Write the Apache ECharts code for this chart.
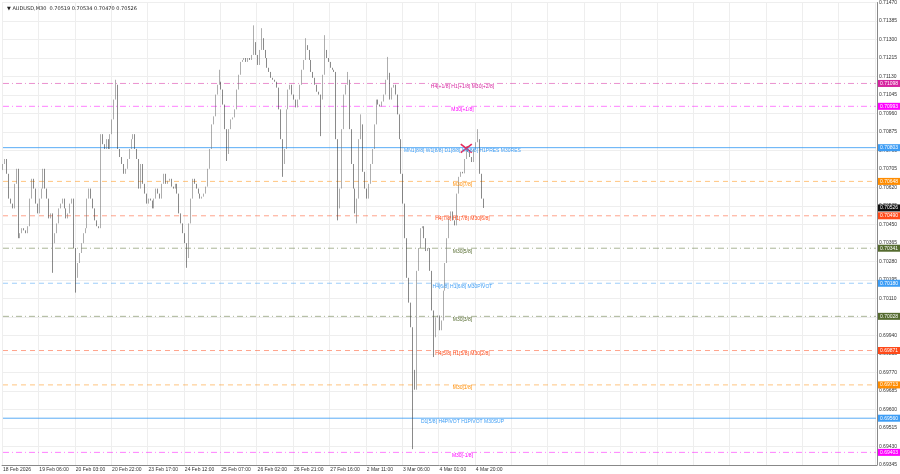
<!DOCTYPE html>
<html>
<head>
<meta charset="utf-8">
<script src="https://cdn.jsdelivr.net/npm/echarts@6/dist/echarts.min.js"></script>
<style>
html,body{margin:0;padding:0;background:#fff}
#main{width:900px;height:474px}
</style>
</head>
<body>
<div id="main"></div>
<script>
// 时间标签（每19根K线一个）
var timeLabels = ['18 Feb 2026','19 Feb 06:00','20 Feb 03:00','20 Feb 22:00','23 Feb 17:00','24 Feb 12:00','25 Feb 07:00','26 Feb 02:00','26 Feb 21:00','27 Feb 16:00','2 Mar 11:00','3 Mar 06:00','4 Mar 01:00','4 Mar 20:00'];

// 收盘价
var closes = [0.70728,0.70751,0.70683,0.70569,0.70546,0.70524,0.70637,0.70706,0.70387,0.70410,
0.70433,0.70423,0.70410,0.70442,0.70569,0.70660,0.70615,0.70546,0.70501,0.70569,
0.70615,0.70706,0.70615,0.70569,0.70478,0.70501,0.70364,0.70410,0.70455,0.70524,
0.70546,0.70569,0.70524,0.70478,0.70501,0.70546,0.70569,0.70342,0.70205,0.70273,
0.70319,0.70364,0.70410,0.70433,0.70569,0.70615,0.70569,0.70524,0.70469,0.70442,
0.70433,0.70865,0.70819,0.70797,0.70842,0.70797,0.70865,0.70933,0.71024,0.71092,
0.70797,0.70760,0.70728,0.70683,0.70706,0.70751,0.70797,0.70842,0.70865,0.70797,
0.70751,0.70615,0.70728,0.70637,0.70592,0.70546,0.70569,0.70560,0.70524,0.70569,
0.70615,0.70592,0.70569,0.70637,0.70683,0.70637,0.70651,0.70660,0.70624,0.70615,
0.70637,0.70592,0.70501,0.70455,0.70410,0.70364,0.70296,0.70455,0.70569,0.70660,
0.70637,0.70615,0.70592,0.70569,0.70578,0.70592,0.70624,0.70706,0.70797,0.70910,
0.70947,0.71047,0.71092,0.71106,0.71070,0.71001,0.70888,0.70774,0.70888,0.70933,
0.70942,0.70979,0.71070,0.71138,0.71197,0.71206,0.71215,0.71197,0.71215,0.71206,
0.71229,0.71288,0.71229,0.71183,0.71252,0.71306,0.71252,0.71215,0.71170,0.71151,
0.71124,0.71115,0.71106,0.71079,0.70979,0.70842,0.70728,0.70797,0.70979,0.71070,
0.71092,0.71047,0.71024,0.70988,0.71024,0.71092,0.71161,0.71206,0.71274,0.71252,
0.71206,0.71151,0.71124,0.71092,0.71060,0.71047,0.71024,0.71138,0.71252,0.71215,
0.71197,0.71170,0.71161,0.71151,0.70842,0.70524,0.70615,0.70888,0.71047,0.71092,
0.71115,0.70888,0.70728,0.70615,0.70501,0.70569,0.70842,0.70910,0.70692,0.70615,
0.70569,0.70637,0.70728,0.70797,0.70910,0.71024,0.71001,0.70992,0.71015,0.71047,
0.71115,0.71147,0.71024,0.71079,0.71092,0.71047,0.70956,0.70842,0.70683,0.70546,
0.70387,0.70205,0.70091,0.69978,0.69782,0.69691,0.70237,0.70342,0.70433,0.70442,
0.70387,0.70328,0.70342,0.70237,0.70055,0.69932,0.70023,0.70032,0.69964,0.70009,
0.70146,0.70273,0.70387,0.70478,0.70510,0.70469,0.70446,0.70592,0.70669,0.70692,
0.70685,0.70751,0.70810,0.70783,0.70760,0.70737,0.70797,0.70828,0.70842,0.70683,
0.70569,0.70526];
var firstOpen = 0.70700;

// 明显影线（下标: 价格）
var highWicks = {59:0.71115,113:0.71161,131:0.71365,135:0.71352,158:0.71306,168:0.71320,180:0.71151,187:0.70956,201:0.71220,248:0.70888};
var lowWicks = {26:0.70228,38:0.70137,96:0.70251,117:0.70742,146:0.70669,166:0.70856,175:0.70469,185:0.70455,214:0.69418,225:0.69841};

// 水平价位线
var levelValues = [0.71098,0.70993,0.70803,0.70648,0.70490,0.70341,0.70180,0.70028,0.69871,0.69713,0.69560,0.69403];
var levelLabels = ['H4[+1/8] H1[+1/8] M30[+2/8]','M30[+1/8]','MN1[8/8] W1[8/8] D1[8/8] H4[8/8] H1PRES M30RES','M30[7/8]','H4[7/8] H1[7/8] M30[6/8]','M30[5/8]','H4[6/8] H1[6/8] M30PIVOT','M30[3/8]','H4[5/8] H1[5/8] M30[2/8]','M30[1/8]','D1[5/8] H4PIVOT H1PIVOT M30SUP','M30[-1/8]'];
var levelColors = ['#d6249f','#ff00ff','#3d9df5','#ff8c00','#ff4a1a','#556b2f','#3d9df5','#556b2f','#ff4a1a','#ff8c00','#3d9df5','#ff00ff'];
var levelTypes = ['dashdot','dashdot','solid','dashed','dashed','dashdot','dashed','dashdot','dashed','dashed','solid','dashdot'];
var lastPrice = 0.70526;

var BASE = 0.69345, STEP = 0.00085, SLOTS = 457;

var cats = [];
for (var i = 0; i < SLOTS; i++) cats.push(i);

var kdata = [];
var prev = firstOpen;
for (var j = 0; j < closes.length; j++) {
    var o = prev, c = closes[j];
    var h = highWicks[j] !== undefined ? highWicks[j] : Math.max(o, c);
    var l = lowWicks[j] !== undefined ? lowWicks[j] : Math.min(o, c);
    kdata.push([o - BASE, c - BASE, l - BASE, h - BASE]);
    prev = c;
}

function dashOf(t) {
    if (t == 'dashdot') return [6, 3, 1, 3];
    if (t == 'dashed') return [5, 4];
    return 'solid';
}

// 价位线用折线系列画
function levelSeries(v, color, type, opacity) {
    return {
        type: 'line', silent: true, symbol: 'none', z: 1,
        data: [[0, v - BASE], [SLOTS - 1, v - BASE]],
        lineStyle: { color: color, type: dashOf(type), width: 1, opacity: opacity },
        endLabel: {
            show: true, formatter: v.toFixed(5), distance: 2,
            backgroundColor: color, color: '#fff', fontSize: 5, padding: [1, 2]
        }
    };
}

var series = [];
var markPoints = [];
levelValues.forEach(function(v, k) {
    series.push(levelSeries(v, levelColors[k], levelTypes[k], levelTypes[k] == 'solid' ? 0.85 : 0.5));
    markPoints.push({
        coord: [240, v - BASE], symbol: 'circle', symbolSize: 0,
        label: { show: true, position: 'inside', formatter: levelLabels[k], color: levelColors[k], fontSize: 5, offset: [0, 3] }
    });
});
series.push(levelSeries(lastPrice, '#111', 'solid', 0));
markPoints.push({ coord: [242, 0.70800 - BASE], symbol: 'rect', symbolSize: [14, 1.6], symbolRotate: 38, itemStyle: { color: '#e8285a' }, label: { show: false } });
markPoints.push({ coord: [242, 0.70800 - BASE], symbol: 'rect', symbolSize: [14, 1.6], symbolRotate: -38, itemStyle: { color: '#e8285a' }, label: { show: false } });

series.push({
    type: 'candlestick',
    data: kdata,
    z: 3,
    barWidth: 1.2,
    itemStyle: { color: '#aaa', color0: '#444', borderColor: '#777', borderColor0: '#3a3a3a', borderWidth: 0.6 },
    markPoint: { silent: true, data: markPoints }
});

var myChart = echarts.init(document.getElementById('main'));
myChart.setOption({
    animation: false,
    backgroundColor: '#fff',
    title: {
        text: '\u25BC AUDUSD,M30  0.70519 0.70534 0.70470 0.70526',
        left: 2, top: 1,
        textStyle: { fontSize: 5, fontWeight: 'normal', color: '#222', fontFamily: 'DejaVu Sans' }
    },
    grid: { left: 0, right: 20, top: 2, bottom: 9 },
    xAxis: {
        type: 'category', data: cats, boundaryGap: true,
        axisLine: { lineStyle: { color: '#888' } },
        axisTick: { show: false },
        splitLine: { show: true, interval: 18, lineStyle: { color: '#eee' } },
        axisLabel: {
            interval: 18, fontSize: 5, color: '#333', margin: 2, align: 'left',
            formatter: function(v, idx) { var n = idx / 19; return timeLabels[n] || ''; }
        }
    },
    yAxis: {
        type: 'value', position: 'right', min: 0, max: STEP * 25, interval: STEP,
        axisLine: { show: true, lineStyle: { color: '#888' } },
        axisTick: { show: false },
        splitLine: { lineStyle: { color: '#eee' } },
        axisLabel: { fontSize: 5, color: '#333', margin: 2, formatter: function(v) { return (v + BASE).toFixed(5); } }
    },
    series: series
});
</script>
</body>
</html>
